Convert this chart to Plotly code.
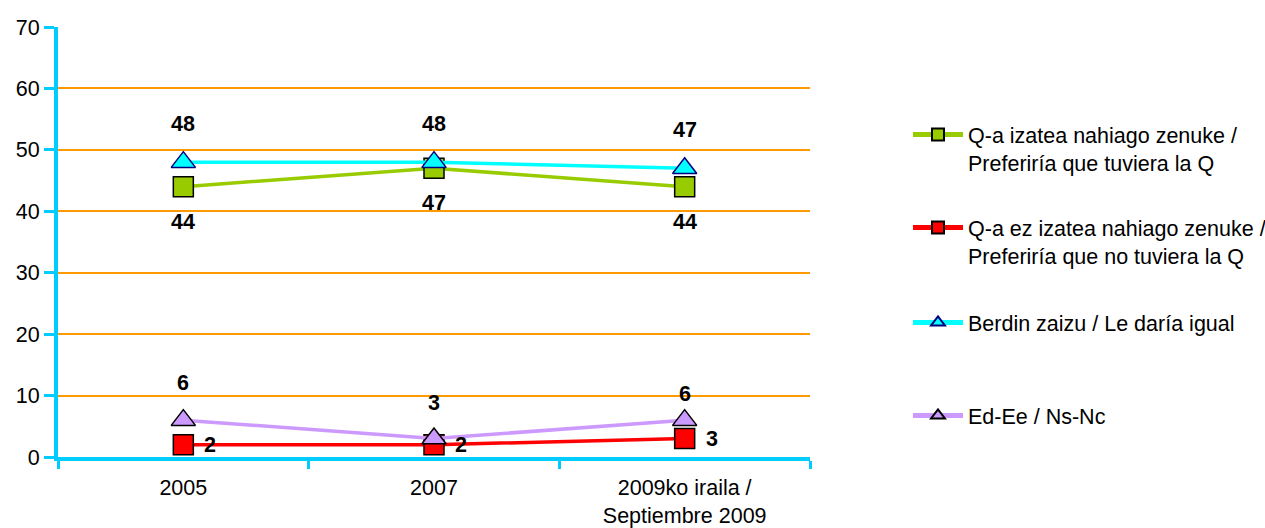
import plotly.graph_objects as go

categories = ["2005", "2007", "2009ko iraila /<br>Septiembre 2009"]
series_names = [
    "Q-a izatea nahiago zenuke /<br>Preferiría que tuviera la Q",
    "Q-a ez izatea nahiago zenuke /<br>Preferiría que no tuviera la Q",
    "Berdin zaizu / Le daría igual",
    "Ed-Ee / Ns-Nc",
]
values_yes = [44, 47, 44]
values_no = [2, 2, 3]
values_same = [48, 48, 47]
values_dk = [6, 3, 6]
y_ticks = [0, 10, 20, 30, 40, 50, 60, 70]

FONT = "Liberation Sans, Arial, sans-serif"
FS = 21.5

styles = [
    dict(values=values_yes, line="#99CC00", fill="#99CC00", edge="#000000", symbol="square", size=20,
         xshift=[0, 0, 0], yshift=[-35, -35, -35]),
    dict(values=values_no, line="#FF0000", fill="#FF0000", edge="#000000", symbol="square", size=20,
         xshift=[27, 27, 27], yshift=[0, 0, 0]),
    dict(values=values_same, line="#00FFFF", fill="#00FFFF", edge="#000080", symbol="triangle-up", size=21,
         xshift=[0, 0, 0], yshift=[38, 38, 38]),
    dict(values=values_dk, line="#CC99FF", fill="#CC99FF", edge="#000000", symbol="triangle-up", size=21,
         xshift=[0, 0, 0], yshift=[37, 36, 26]),
]

legend_tops = [134, 227, 322, 415]

fig = go.Figure()
annotations = []
for i, (name, st) in enumerate(zip(series_names, styles)):
    lg = "legend" if i == 0 else f"legend{i+1}"
    fig.add_trace(go.Scatter(
        x=categories, y=st["values"], name=name, mode="lines+markers",
        line=dict(color=st["line"], width=3.5),
        marker=dict(symbol=st["symbol"], size=st["size"], color=st["fill"],
                    line=dict(color=st["edge"], width=1.5)),
        legend=lg, hoverinfo="skip",
    ))
    for j, v in enumerate(st["values"]):
        annotations.append(dict(
            x=j, y=v, xref="x", yref="y", text=f"<b>{v}</b>", showarrow=False,
            xshift=st["xshift"][j], yshift=st["yshift"][j],
            font=dict(family=FONT, size=FS, color="#000000"),
        ))

legend_common = dict(
    xref="container", yref="container", x=908 / 1265, xanchor="left", yanchor="top",
    font=dict(family=FONT, size=FS, color="#000000"), bgcolor="rgba(0,0,0,0)",
    valign="top", itemsizing="constant", itemwidth=50, borderwidth=0,
)
layout_legends = {}
for i, top in enumerate(legend_tops):
    key = "legend" if i == 0 else f"legend{i+1}"
    layout_legends[key] = dict(legend_common, y=1 - (top - 20) / 528)

fig.update_layout(
    width=1265, height=528,
    margin=dict(l=58, r=455, t=27, b=71, autoexpand=False),
    paper_bgcolor="#FFFFFF", plot_bgcolor="#FFFFFF",
    font=dict(family=FONT, size=FS, color="#000000"),
    showlegend=True,
    annotations=annotations,
    xaxis=dict(
        type="category", range=[-0.5, 2.5], showgrid=False, zeroline=False, automargin=False,
        showline=True, linecolor="#00CCFF", linewidth=4,
        ticks="outside", tickson="boundaries", ticklen=8, tickwidth=3, tickcolor="#00CCFF",
        ticklabelstandoff=8,
        tickfont=dict(family=FONT, size=FS, color="#000000"),
    ),
    yaxis=dict(
        range=[0, 70], tickvals=y_ticks, showgrid=True, gridcolor="#FF9900", gridwidth=1.5,
        zeroline=False, showline=True, linecolor="#00CCFF", linewidth=4, automargin=False,
        ticks="outside", ticklen=10, tickwidth=3, tickcolor="#00CCFF",
        tickfont=dict(family=FONT, size=FS, color="#000000"),
    ),
    **layout_legends,
)

fig.write_html("out.html")
